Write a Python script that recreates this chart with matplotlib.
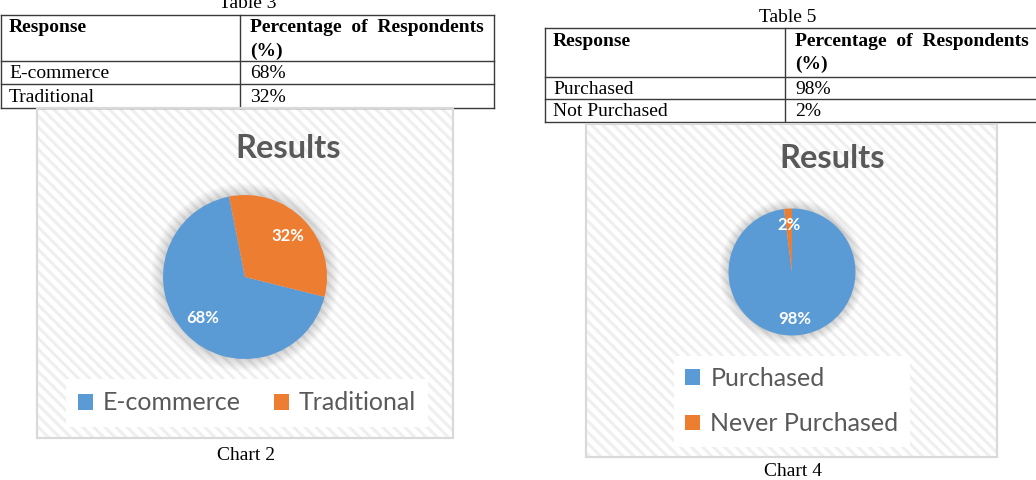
import matplotlib
matplotlib.use("Agg")
import matplotlib.pyplot as plt
from matplotlib.patches import Rectangle, Circle

W, H = 1036, 480

# table data
t3_title = "Table 3"
t3_rows = ["E-commerce", "Traditional"]
t3_vals = ["68%", "32%"]
t5_title = "Table 5"
t5_rows = ["Purchased", "Not Purchased"]
t5_vals = ["98%", "2%"]
head_left = "Response"
head_right = ["Percentage  of  Respondents", "(%)"]

# pie data
c2_labels = ["E-commerce", "Traditional"]
c2_values = [68, 32]
c4_labels = ["Purchased", "Never Purchased"]
c4_values = [98, 2]

BLUE = "#5B9BD5"
ORANGE = "#ED7D31"
GREY = "#595959"
SERIF = "Liberation Serif"
SANS = "Lato"

plt.rcParams["hatch.linewidth"] = 2.2

fig = plt.figure(figsize=(W / 100, H / 100), dpi=100)
bg = fig.add_axes([0, 0, 1, 1])
bg.set_xlim(0, W)
bg.set_ylim(H, 0)
bg.axis("off")


def fbox(x0, y0, w, h):
    return [x0 / W, 1 - (y0 + h) / H, w / W, h / H]


def draw_table(title, tx, ty, x0, x1, xc, ys, rows, vals):
    bg.text(tx, ty, title, family=SERIF, fontsize=14, ha="center", va="center")
    for y in ys:
        bg.plot([x0, x1], [y, y], color="#3a3a3a", lw=1)
    bg.plot([x0, x0], [ys[0], ys[-1]], color="#3a3a3a", lw=1)
    bg.plot([x1, x1], [ys[0], ys[-1]], color="#3a3a3a", lw=1)
    bg.plot([xc, xc], [ys[0], ys[-1]], color="#3a3a3a", lw=1)
    hy = ys[0]
    bg.text(x0 + 8, hy + 13, head_left, family=SERIF, fontsize=14,
            weight="bold", va="center")
    bg.text(xc + 10, hy + 13, head_right[0], family=SERIF, fontsize=14,
            weight="bold", va="center")
    bg.text(xc + 10, hy + 36, head_right[1], family=SERIF, fontsize=14,
            weight="bold", va="center")
    for i, (r, v) in enumerate(zip(rows, vals)):
        yc = (ys[i + 1] + ys[i + 2]) / 2 + 1
        bg.text(x0 + 8, yc, r, family=SERIF, fontsize=14, va="center")
        bg.text(xc + 10, yc, v, family=SERIF, fontsize=14, va="center")


draw_table(t3_title, 248, 4, 1, 494, 240, [15, 61, 84, 108], t3_rows, t3_vals)
draw_table(t5_title, 788, 17, 545, 1040, 785, [28, 77, 99, 122], t5_rows, t5_vals)


def chart_box(x0, y0, x1, y1, caption, cy):
    bg.add_patch(Rectangle((x0, y0), x1 - x0, y1 - y0, facecolor="white",
                           edgecolor="#D9D9D9", lw=1.5, zorder=1))
    bg.add_patch(Rectangle((x0, y0), x1 - x0, y1 - y0, facecolor="none",
                           edgecolor="#EFEFEF", lw=0, hatch="\\\\\\", zorder=1))
    bg.add_patch(Rectangle((x0, y0), x1 - x0, y1 - y0, facecolor="none",
                           edgecolor="#D9D9D9", lw=1.5, zorder=2))
    bg.text((x0 + x1) / 2 + 1, cy, caption, family=SERIF, fontsize=14,
            ha="center", va="center")


chart_box(37, 108, 453, 438, "Chart 2", 455)
chart_box(586, 124, 997, 457, "Chart 4", 471)

bg.text(288, 148, "Results", family=SANS, weight="bold", fontsize=23.5,
        color=GREY, ha="center", va="center")
bg.text(832, 158, "Results", family=SANS, weight="bold", fontsize=23.5,
        color=GREY, ha="center", va="center")


def draw_pie(cx, cy, r, values, labels, start, pctd, fsize):
    ax = fig.add_axes(fbox(cx - r, cy - r, 2 * r, 2 * r))
    for k in range(8):
        ax.add_patch(Circle((0, 0), 1.0 + 0.018 * (k + 1), color="black",
                            alpha=0.018, lw=0, clip_on=False, zorder=0))
    wedges, _, autotexts = ax.pie(values, colors=[BLUE, ORANGE], startangle=start,
                                  counterclock=False, autopct="%d%%",
                                  pctdistance=pctd, radius=1,
                                  wedgeprops=dict(linewidth=0))
    ax.set_xlim(-1, 1)
    ax.set_ylim(-1, 1)
    ax.axis("off")
    for t in autotexts:
        t.set_color("white")
        t.set_fontsize(fsize)
        t.set_fontweight("bold")
        t.set_family(SANS)
    for w in wedges:
        w.set_clip_on(False)
    return ax, wedges


ax2, w2 = draw_pie(245, 277, 82, c2_values, c2_labels, -14, 0.72, 12)
ax4, w4 = draw_pie(792, 272, 63.5, c4_values, c4_labels, 90, 0.74, 12)

leg2 = ax2.legend(w2, c2_labels, loc="center", bbox_to_anchor=(247 / W, 1 - 403 / H),
                  bbox_transform=fig.transFigure, ncol=2, frameon=True,
                  facecolor="white", edgecolor="none", fancybox=False, framealpha=1,
                  prop=dict(family=SANS, size=18), handlelength=0.6, handleheight=0.6,
                  handletextpad=0.4, columnspacing=1.3, borderpad=0.5)
for t in leg2.get_texts():
    t.set_color(GREY)

leg4 = ax4.legend(w4, c4_labels, loc="center", bbox_to_anchor=(792 / W, 1 - 401 / H),
                  bbox_transform=fig.transFigure, ncol=1, frameon=True,
                  facecolor="white", edgecolor="none", fancybox=False, framealpha=1,
                  prop=dict(family=SANS, size=18), handlelength=0.6, handleheight=0.6,
                  handletextpad=0.4, labelspacing=0.9, borderpad=0.45)
for t in leg4.get_texts():
    t.set_color(GREY)

fig.savefig("out.png", dpi=100)
